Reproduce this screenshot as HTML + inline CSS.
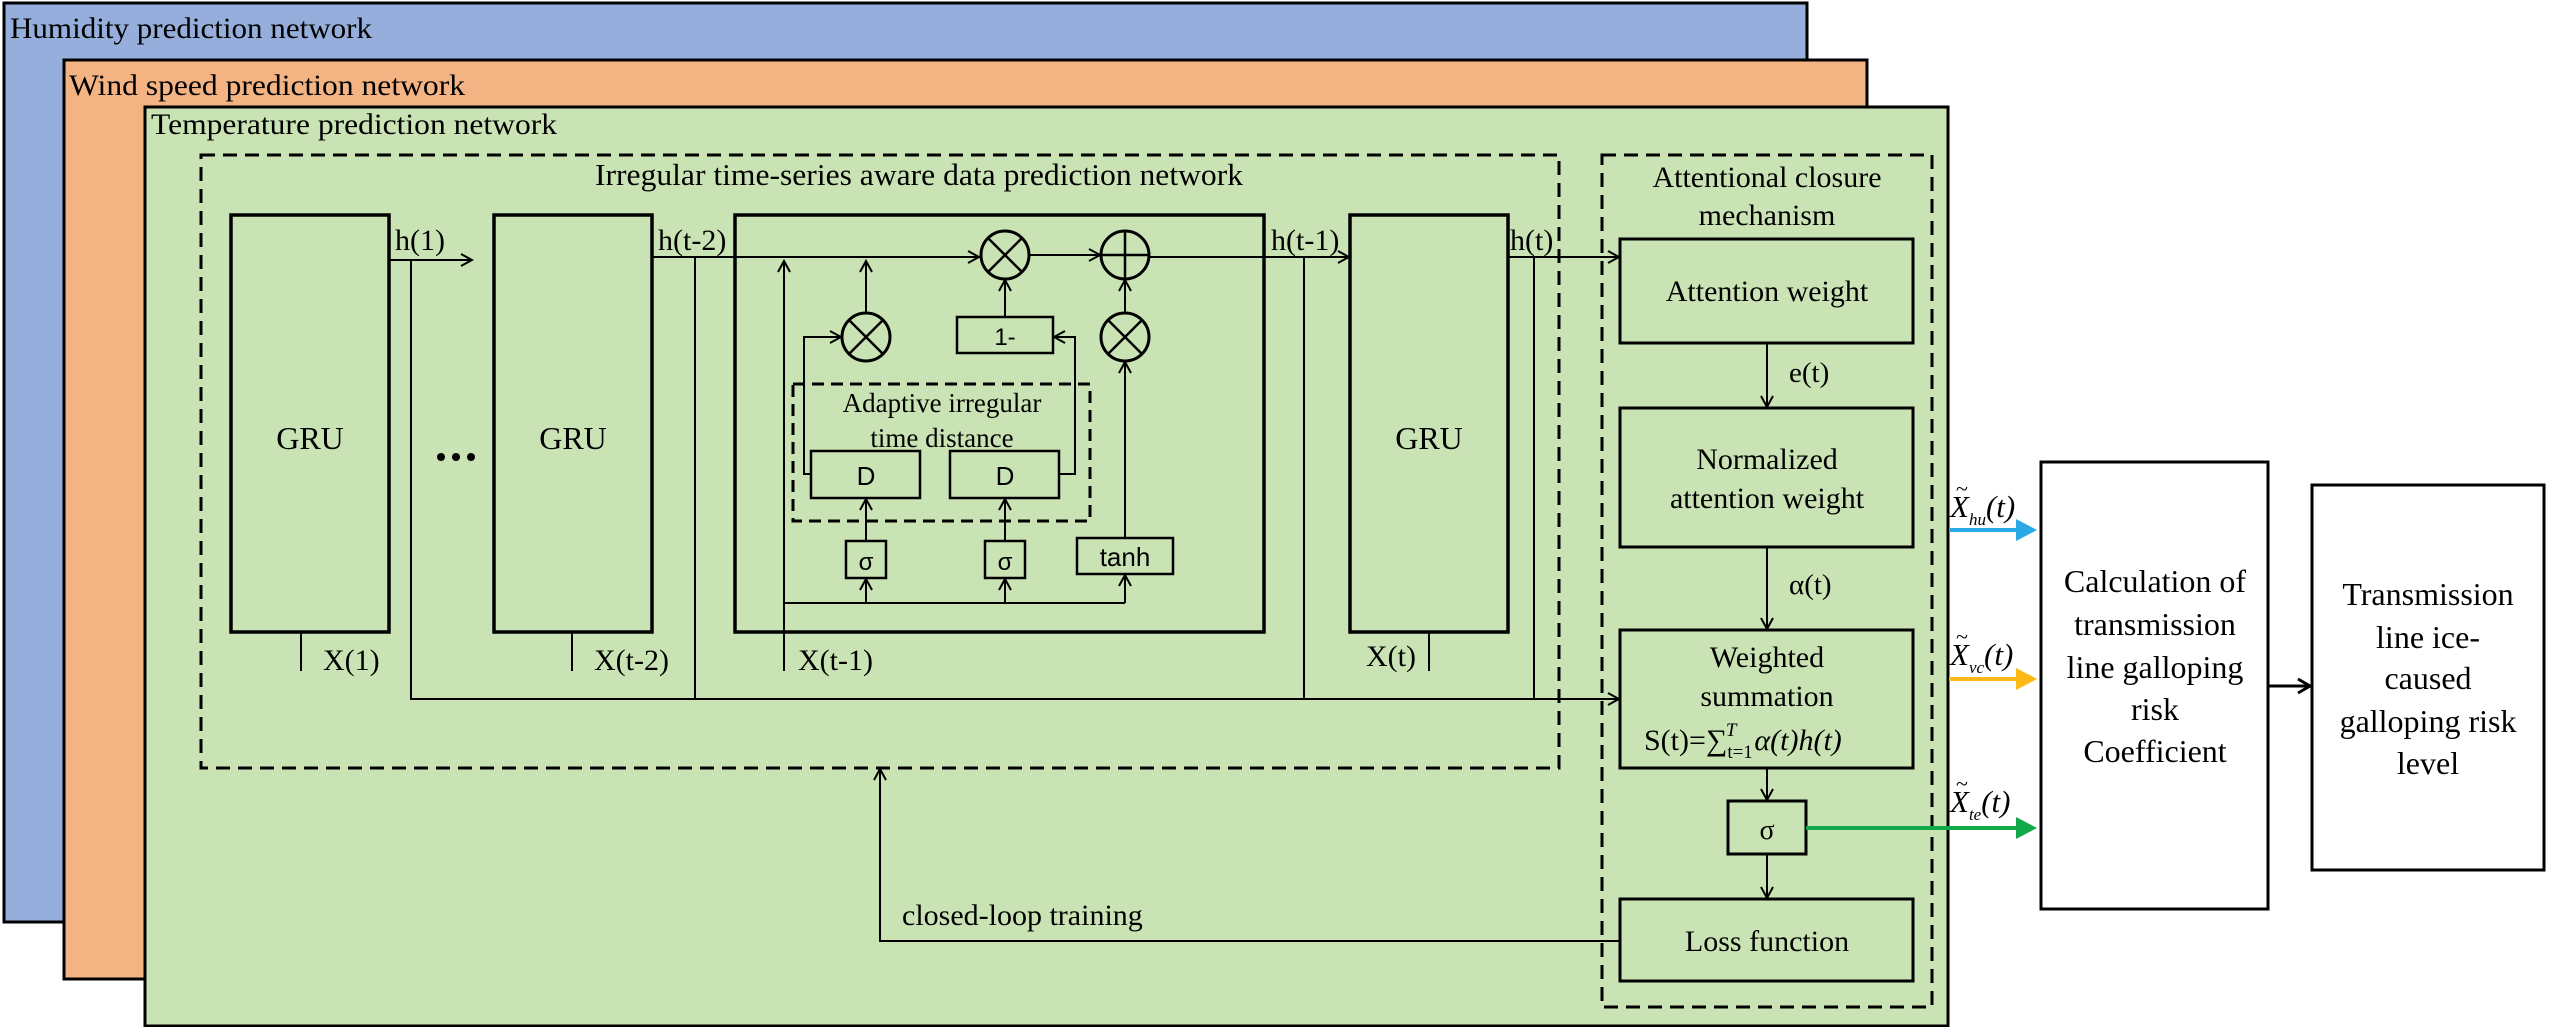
<!DOCTYPE html>
<html><head><meta charset="utf-8"><style>
html,body{margin:0;padding:0;background:#fff;}
svg{display:block;}
</style></head><body>
<svg width="2551" height="1027" viewBox="0 0 2551 1027" xmlns="http://www.w3.org/2000/svg" font-family="'Liberation Serif', serif" style="font-family:'Liberation Serif',serif">
<defs>
<marker id="a" markerWidth="14" markerHeight="14" refX="12" refY="7" orient="auto" markerUnits="userSpaceOnUse">
<path d="M1,1 L12,7 L1,13" fill="none" stroke="#000" stroke-width="2"/></marker>
<marker id="ab" markerWidth="18" markerHeight="18" refX="14" refY="9" orient="auto" markerUnits="userSpaceOnUse">
<path d="M2,2 L14,9 L2,16" fill="none" stroke="#000" stroke-width="3"/></marker>
</defs>
<rect x="4" y="3" width="1803" height="919" fill="#95aedb" stroke="#000" stroke-width="3"/>
<text x="10" y="38" font-size="30" textLength="362" lengthAdjust="spacingAndGlyphs">Humidity prediction network</text>
<rect x="64" y="60" width="1803" height="919" fill="#f3b383" stroke="#000" stroke-width="3"/>
<text x="69" y="95" font-size="30" textLength="396" lengthAdjust="spacingAndGlyphs">Wind speed prediction network</text>
<rect x="145" y="107" width="1803" height="919" fill="#cae3b4" stroke="#000" stroke-width="3"/>
<text x="151" y="134" font-size="30" textLength="406" lengthAdjust="spacingAndGlyphs">Temperature prediction network</text>

<g fill="none" stroke="#000">
<rect x="201" y="155" width="1358" height="613" stroke-width="3" stroke-dasharray="14,8"/>
<rect x="1602" y="155" width="330" height="852" stroke-width="3" stroke-dasharray="14,8"/>
<rect x="793" y="384" width="297" height="137" stroke-width="3" stroke-dasharray="12,7"/>
<rect x="231" y="215" width="158" height="417" stroke-width="3.5"/>
<rect x="494" y="215" width="158" height="417" stroke-width="3.5"/>
<rect x="735" y="215" width="529" height="417" stroke-width="3.5"/>
<rect x="1350" y="215" width="158" height="417" stroke-width="3.5"/>
<rect x="1620" y="239" width="293" height="104" stroke-width="3"/>
<rect x="1620" y="408" width="293" height="139" stroke-width="3"/>
<rect x="1620" y="630" width="293" height="138" stroke-width="3"/>
<rect x="1728" y="801" width="78" height="53" stroke-width="3"/>
<rect x="1620" y="899" width="293" height="82" stroke-width="3"/>
<rect x="2041" y="462" width="227" height="447" stroke-width="3" fill="#fff"/>
<rect x="2312" y="485" width="232" height="385" stroke-width="3" fill="#fff"/>
<rect x="811" y="451" width="109" height="47" stroke-width="2.5"/>
<rect x="950" y="451" width="109" height="47" stroke-width="2.5"/>
<rect x="846" y="541" width="40" height="37" stroke-width="2.5"/>
<rect x="985" y="541" width="40" height="37" stroke-width="2.5"/>
<rect x="1077" y="538" width="96" height="36" stroke-width="2.5"/>
<rect x="957" y="317" width="96" height="36" stroke-width="2.5"/>
<circle cx="866" cy="337" r="24" stroke-width="3"/>
<path d="M849,320 L883,354 M883,320 L849,354" stroke-width="2.5"/>
<circle cx="1005" cy="255" r="24" stroke-width="3"/>
<path d="M988,238 L1022,272 M1022,238 L988,272" stroke-width="2.5"/>
<circle cx="1125" cy="337" r="24" stroke-width="3"/>
<path d="M1108,320 L1142,354 M1142,320 L1108,354" stroke-width="2.5"/>
<circle cx="1125" cy="255" r="24" stroke-width="3"/>
<path d="M1101,255 L1149,255 M1125,231 L1125,279" stroke-width="2.5"/>

<g stroke-width="2">
<path d="M389,260 L472,260" marker-end="url(#a)"/>
<path d="M411,260 L411,699 L1619,699" marker-end="url(#a)"/>
<path d="M301,632 L301,671"/>
<path d="M652,257 L979,257" marker-end="url(#a)"/>
<path d="M695,257 L695,699"/>
<path d="M572,632 L572,671"/>
<path d="M784,671 L784,261" marker-end="url(#a)"/>
<path d="M784,603 L1125,603"/>
<path d="M866,603 L866,579" marker-end="url(#a)"/>
<path d="M1005,603 L1005,579" marker-end="url(#a)"/>
<path d="M1125,603 L1125,575" marker-end="url(#a)"/>
<path d="M866,541 L866,499" marker-end="url(#a)"/>
<path d="M1005,541 L1005,499" marker-end="url(#a)"/>
<path d="M1125,538 L1125,362" marker-end="url(#a)"/>
<path d="M1125,313 L1125,280" marker-end="url(#a)"/>
<path d="M866,313 L866,261" marker-end="url(#a)"/>
<path d="M1005,317 L1005,280" marker-end="url(#a)"/>
<path d="M811,474 L804,474 L804,337 L841,337" marker-end="url(#a)"/>
<path d="M1059,474 L1075,474 L1075,337 L1054,337" marker-end="url(#a)"/>
<path d="M1029,255 L1100,255" marker-end="url(#a)"/>
<path d="M1149,257 L1349,257" marker-end="url(#a)"/>
<path d="M1304,257 L1304,699"/>
<path d="M1429,632 L1429,671"/>
<path d="M1508,257 L1619,257" marker-end="url(#a)"/>
<path d="M1534,257 L1534,699"/>
<path d="M1767,343 L1767,407" marker-end="url(#a)"/>
<path d="M1767,547 L1767,629" marker-end="url(#a)"/>
<path d="M1767,768 L1767,800" marker-end="url(#a)"/>
<path d="M1767,854 L1767,898" marker-end="url(#a)"/>
<path d="M1620,941 L880,941 L880,769" marker-end="url(#a)"/>
</g>
<path d="M2268,686 L2310,686" stroke-width="3" marker-end="url(#ab)"/>
</g>
<g stroke-width="4">
<path d="M1949,530 L2018,530" stroke="#2aa9e6"/>
<path d="M1949,679 L2018,679" stroke="#fcb814"/>
<path d="M1806,828 L2018,828" stroke="#12a94a"/>
</g>
<path d="M2016,519 L2037,530 L2016,541Z" fill="#2aa9e6"/>
<path d="M2016,668 L2037,679 L2016,690Z" fill="#fcb814"/>
<path d="M2016,817 L2037,828 L2016,839Z" fill="#12a94a"/>

<g font-family="'Liberation Serif', serif" style="font-family:'Liberation Serif',serif">
<text x="919" y="185" font-size="31" text-anchor="middle" textLength="648" lengthAdjust="spacingAndGlyphs">Irregular time-series aware data prediction network</text>
<text x="310" y="449" font-size="32" text-anchor="middle">GRU</text>
<text x="573" y="449" font-size="32" text-anchor="middle">GRU</text>
<text x="1429" y="449" font-size="32" text-anchor="middle">GRU</text>
<text x="395" y="250" font-size="30">h(1)</text>
<text x="658" y="250" font-size="30">h(t-2)</text>
<text x="1271" y="250" font-size="30">h(t-1)</text>
<text x="1510" y="250" font-size="30">h(t)</text>
<text x="323" y="670" font-size="30">X(1)</text>
<text x="594" y="670" font-size="30">X(t-2)</text>
<text x="798" y="670" font-size="30">X(t-1)</text>
<text x="1366" y="666" font-size="30">X(t)</text>
<text x="942" y="412" font-size="27" text-anchor="middle">Adaptive irregular</text>
<text x="942" y="447" font-size="27" text-anchor="middle">time distance</text>
<text x="1767" y="187" font-size="30" text-anchor="middle">Attentional closure</text>
<text x="1767" y="225" font-size="30" text-anchor="middle">mechanism</text>
<text x="1767" y="301" font-size="30" text-anchor="middle">Attention weight</text>
<text x="1789" y="382" font-size="29">e(t)</text>
<text x="1767" y="469" font-size="30" text-anchor="middle">Normalized</text>
<text x="1767" y="508" font-size="30" text-anchor="middle">attention weight</text>
<text x="1789" y="594" font-size="29">α(t)</text>
<text x="1767" y="667" font-size="30" text-anchor="middle">Weighted</text>
<text x="1767" y="706" font-size="30" text-anchor="middle">summation</text>
<text x="1644" y="750" font-size="30">S(t)=∑<tspan font-size="19" dy="8">t=1</tspan><tspan font-size="19" dy="-22" dx="-27" font-style="italic">T</tspan><tspan dy="14" dx="18" font-style="italic">α(t)h(t)</tspan></text>
<text x="1767" y="839" font-size="28" text-anchor="middle">σ</text>
<text x="1767" y="951" font-size="30" text-anchor="middle">Loss function</text>
<text x="902" y="925" font-size="30">closed-loop training</text>
<g font-size="32" text-anchor="middle">
<text x="2155" y="592">Calculation of</text>
<text x="2155" y="635">transmission</text>
<text x="2155" y="678">line galloping</text>
<text x="2155" y="720">risk</text>
<text x="2155" y="762">Coefficient</text>
<text x="2428" y="605">Transmission</text>
<text x="2428" y="648">line ice-</text>
<text x="2428" y="689">caused</text>
<text x="2428" y="732">galloping risk</text>
<text x="2428" y="774">level</text>
</g>
<g font-size="31" font-style="italic">
<text x="1950" y="517">X<tspan font-size="17" dy="8">hu</tspan><tspan dy="-8">(t)</tspan></text>
<text x="1956" y="496" font-size="22" font-style="normal">~</text>
<text x="1950" y="665">X<tspan font-size="17" dy="8">vc</tspan><tspan dy="-8">(t)</tspan></text>
<text x="1956" y="644" font-size="22" font-style="normal">~</text>
<text x="1950" y="812">X<tspan font-size="17" dy="8">te</tspan><tspan dy="-8">(t)</tspan></text>
<text x="1956" y="791" font-size="22" font-style="normal">~</text>
</g>
</g>
<g font-family="'Liberation Sans', sans-serif" style="font-family:'Liberation Sans',sans-serif">
<text x="866" y="485" font-size="26" text-anchor="middle">D</text>
<text x="1005" y="485" font-size="26" text-anchor="middle">D</text>
<text x="866" y="570" font-size="24" text-anchor="middle">σ</text>
<text x="1005" y="570" font-size="24" text-anchor="middle">σ</text>
<text x="1125" y="566" font-size="26" text-anchor="middle">tanh</text>
<text x="1005" y="345" font-size="24" text-anchor="middle">1-</text>
</g>
<circle cx="441" cy="457" r="4"/><circle cx="456" cy="457" r="4"/><circle cx="471" cy="457" r="4"/>
</svg>
</body></html>
